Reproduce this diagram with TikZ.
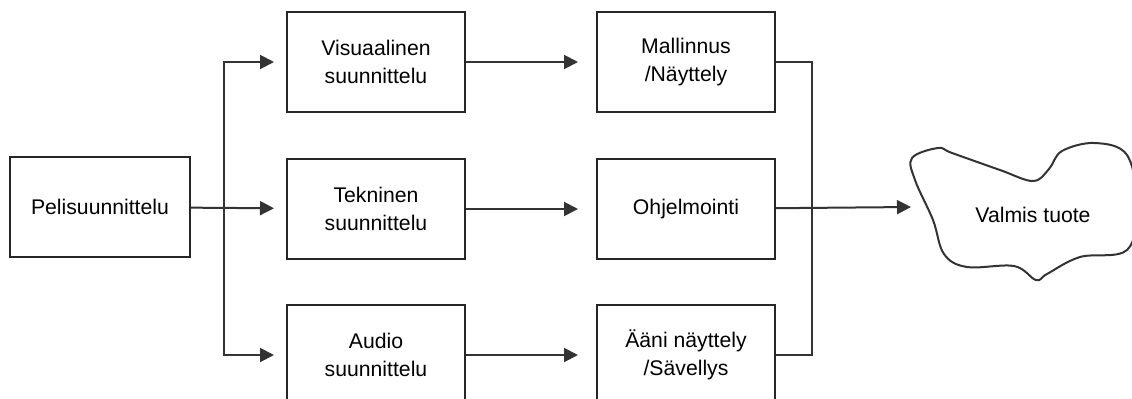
\documentclass[tikz,border=0pt]{standalone}
\usepackage{fontspec}
\setmainfont{Liberation Sans}
\usetikzlibrary{arrows.meta,positioning,calc}

\begin{document}
\begin{tikzpicture}[x=0.5pt, y=-0.5pt, >={Triangle[length=7pt,width=7pt]},
	   font=\fontsize{10.6}{14}\selectfont, line width=1pt,
	   b/.style={draw=black!85, align=center, minimum width=89pt, minimum height=50pt, inner sep=0pt},
	   ln/.style={draw=black!80},
	   arr/.style={ln, ->, shorten >=6pt}]
	  \useasboundingbox (0,0) rectangle (1132,398);
	  \node[b, minimum width=90pt] (pel) at (100,207) {Pelisuunnittelu};
	  \node[b] (vis) at (376,62) {Visuaalinen\\suunnittelu};
	  \node[b, below=22.5pt of vis] (tek) {Tekninen\\suunnittelu};
	  \node[b, below=22pt of tek] (aud) {Audio\\suunnittelu};
	  \node[b, right=65pt of vis] (mal) {Mallinnus\\/Näyttely};
	  \node[b, right=65pt of tek] (ohj) {Ohjelmointi};
	  \node[b, right=65pt of aud] (aan) {Ääni näyttely\\/Sävellys};
	  % haarat
	  \coordinate[right=16.5pt of pel.east] (fork);
	  \draw[arr] (pel) -- (tek);
	  \draw[arr] (fork) |- (vis);
	  \draw[arr] (fork) |- (aud);
	  \draw[arr, shorten >=9pt] (vis) -- (mal);
	  \draw[arr, shorten >=9pt] (tek) -- (ohj);
	  \draw[arr, shorten >=9pt] (aud) -- (aan);
	  \coordinate[right=18pt of mal.east] (join);
	  \draw[ln] (mal.east) -- (join) |- (aan.east);
	  % valmis tuote
	  \coordinate (cl) at (911,207);
	  \draw[arr, shorten >=0pt] (ohj) -- (cl);
	  \draw[ln] plot[smooth cycle, tension=0.6] coordinates {
	    (912,158) (938,148) (952,153) (1000,170) (1033,181)
	    (1049,169) (1062,151) (1095,143) (1127,155) (1137,205)
	    (1127,250) (1080,257) (1047,274) (1036,280) (1014,266)
	    (967,267) (944,254) (933,220) (915,180)};
	  \node (valmis) at (1033,215) {Valmis tuote};
	\end{tikzpicture}
\end{document}
